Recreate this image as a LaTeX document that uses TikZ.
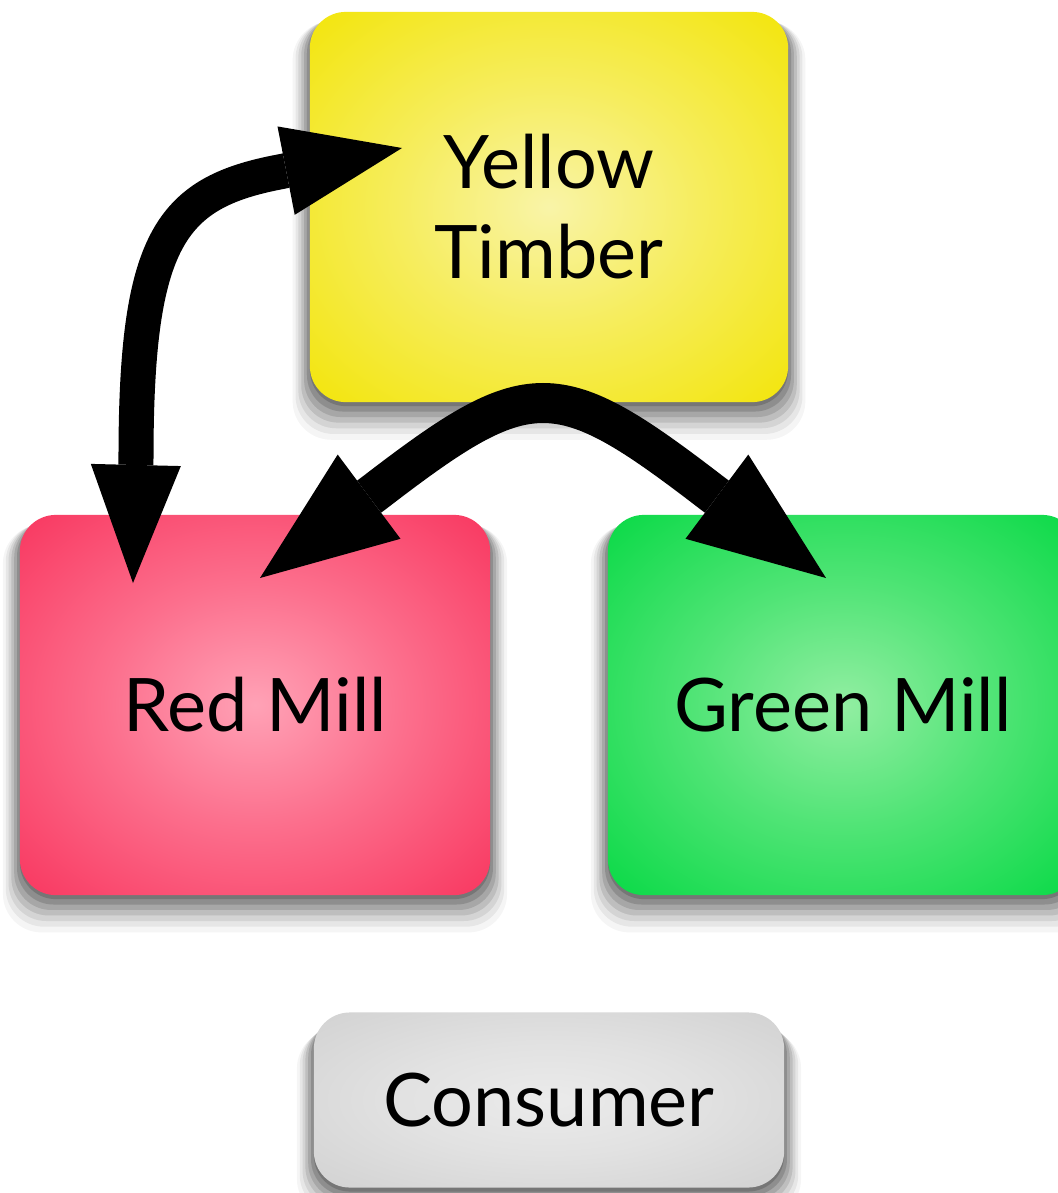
\documentclass[tikz,border=0pt]{standalone}
\usepackage{fontspec}
\setmainfont{Lato}
\usetikzlibrary{arrows.meta,shadows}
\definecolor{yelO}{HTML}{F2E400}
\definecolor{yelI}{HTML}{F9F4A8}
\definecolor{redO}{HTML}{F8305A}
\definecolor{redI}{HTML}{FFA2B6}
\definecolor{grnO}{HTML}{00D840}
\definecolor{grnI}{HTML}{92EEA2}
\definecolor{gryO}{HTML}{D0D0D0}
\definecolor{gryI}{HTML}{EBEBEB}
\pgfdeclareradialshading{yelshade}{\pgfpointorigin}{color(0bp)=(yelI); color(16bp)=(yelO!45!yelI); color(38bp)=(yelO); color(72bp)=(yelO)}
\pgfdeclareradialshading{redshade}{\pgfpointorigin}{color(0bp)=(redI); color(16bp)=(redO!45!redI); color(38bp)=(redO); color(72bp)=(redO)}
\pgfdeclareradialshading{grnshade}{\pgfpointorigin}{color(0bp)=(grnI); color(16bp)=(grnO!45!grnI); color(38bp)=(grnO); color(72bp)=(grnO)}
\pgfdeclareradialshading{gryshade}{\pgfpointorigin}{color(0bp)=(gryI); color(16bp)=(gryO!35!gryI); color(38bp)=(gryO); color(72bp)=(gryO)}
\begin{document}
\begin{tikzpicture}[x=0.01cm,y=-0.01cm,
  softshadow/.style={
    general shadow={fill=black, opacity=0.16, shadow yshift=-0.04cm, shadow scale=1.0},
    general shadow={fill=black, opacity=0.14, shadow yshift=-0.07cm, shadow scale=1.012},
    general shadow={fill=black, opacity=0.12, shadow yshift=-0.10cm, shadow scale=1.024},
    general shadow={fill=black, opacity=0.10, shadow yshift=-0.13cm, shadow scale=1.036},
    general shadow={fill=black, opacity=0.08, shadow yshift=-0.16cm, shadow scale=1.048},
    general shadow={fill=black, opacity=0.06, shadow yshift=-0.19cm, shadow scale=1.060},
    general shadow={fill=black, opacity=0.04, shadow yshift=-0.22cm, shadow scale=1.072}},
  box/.style={rectangle, rounded corners=0.36cm, inner sep=0pt, shade, softshadow,
    font=\fontsize{21pt}{25.6pt}\selectfont, align=center, text=black},
  arrA/.style={line width=0.35cm, draw=black,
    {Triangle[length=1.18cm,width=0.90cm,line width=0pt]}-{Triangle[length=1.18cm,width=0.90cm,line width=0pt]}},
  arrB/.style={line width=0.40cm, draw=black,
    {Triangle[length=1.36cm,width=1.05cm,line width=0pt]}-{Triangle[length=1.36cm,width=1.05cm,line width=0pt]}}
]
\useasboundingbox[fill=white] (0,0) rectangle (1058,1193);

\node[box, shading=yelshade, minimum width=4.78cm, minimum height=3.90cm] (yellow) at (549,207) {Yellow\\Timber};
\node[box, shading=redshade, minimum width=4.70cm, minimum height=3.80cm] (red) at (255,705) {Red Mill};
\node[box, shading=grnshade, minimum width=4.70cm, minimum height=3.80cm] (green) at (843,705) {Green Mill};
\node[box, shading=gryshade, minimum width=4.70cm, minimum height=1.75cm] (consumer) at (549,1100) {Consumer};

% arrow between Red Mill and Yellow Timber
\coordinate (rTipA) at (133,583);
\coordinate (rBaseA) at (136,458);
\coordinate (yBase) at (279,172);
\coordinate (yTip) at (402,148);
\draw[arrA] (rTipA) -- (rBaseA) .. controls (136,240) and (170,193) .. (yBase) -- (yTip);

% arrow between Red Mill and Green Mill
\coordinate (rTipB) at (260,578);
\coordinate (rBaseB) at (374,493);
\coordinate (gBase) at (712,493);
\coordinate (gTip) at (826,578);
\draw[arrB] (rTipB) -- (rBaseB) .. controls (530,373) and (556,373) .. (gBase) -- (gTip);
\end{tikzpicture}
\end{document}
